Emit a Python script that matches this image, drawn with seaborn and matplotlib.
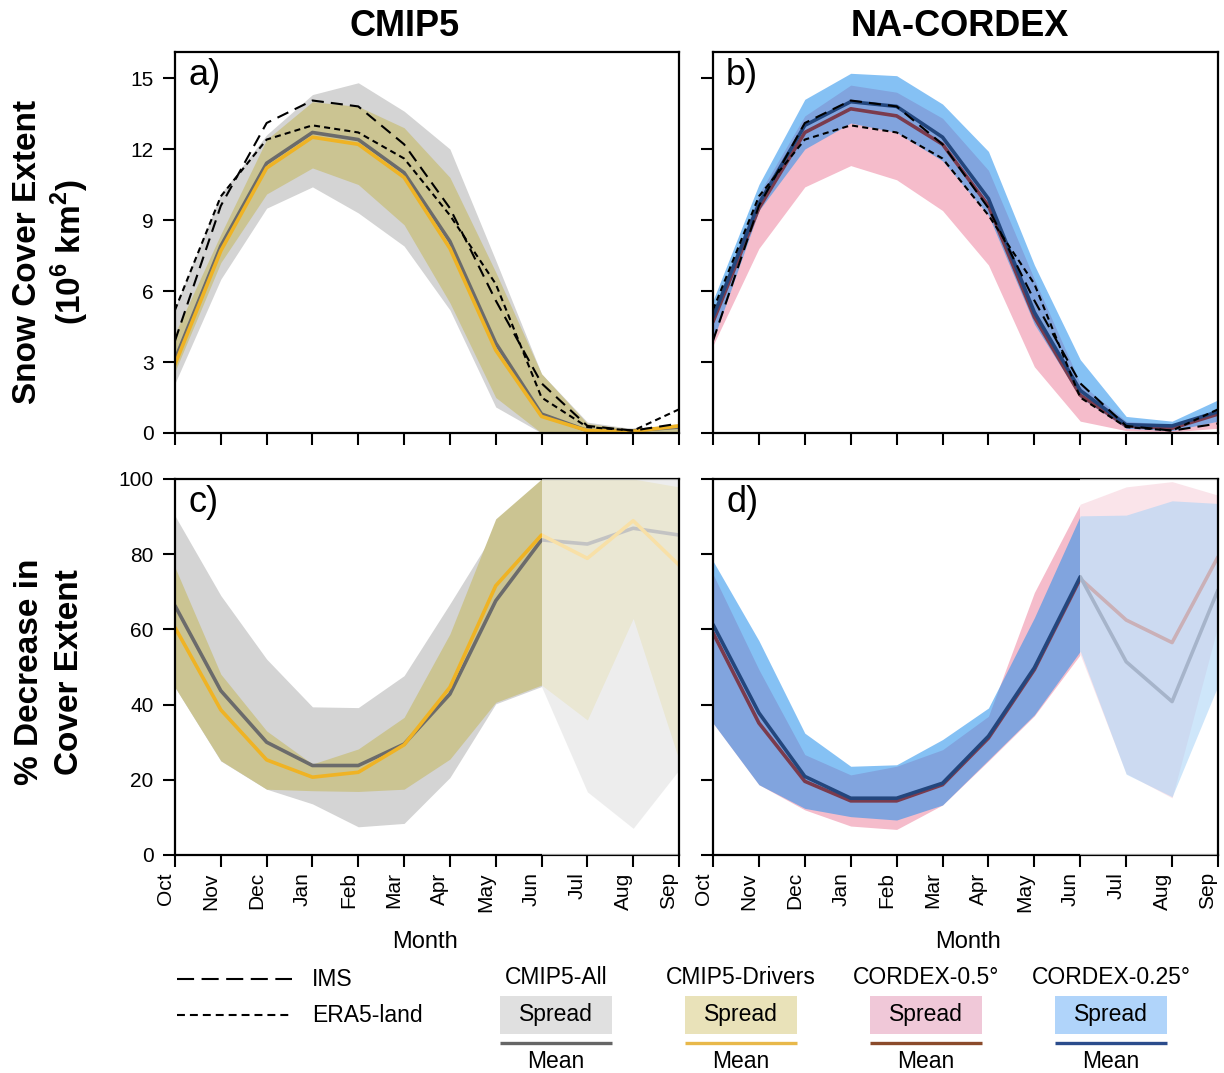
import numpy as np
import pandas as pd
import matplotlib.pyplot as plt
import seaborn as sns
from matplotlib.patches import Rectangle
from matplotlib.transforms import ScaledTranslation

# --- DATA ---
months = ['Oct', 'Nov', 'Dec', 'Jan', 'Feb', 'Mar', 'Apr', 'May', 'Jun', 'Jul', 'Aug', 'Sep']

# panel a: snow cover extent, CMIP5 (10^6 km^2)
a_all_hi = [5.3, 10.1, 12.6, 14.3, 14.8, 13.6, 12.0, 7.3, 2.5, 0.46, 0.18, 0.4]
a_all_lo = [2.1, 6.5, 9.5, 10.4, 9.3, 7.9, 5.2, 1.1, 0.0, 0.0, 0.0, 0.0]
a_drv_hi = [4.2, 8.4, 12.4, 14.0, 13.8, 12.9, 10.8, 6.8, 2.5, 0.4, 0.15, 0.35]
a_drv_lo = [2.6, 7.2, 10.1, 11.2, 10.5, 8.8, 5.5, 1.5, 0.0, 0.0, 0.0, 0.0]
a_all_mean = [3.1, 7.9, 11.4, 12.7, 12.4, 11.0, 8.1, 3.8, 0.8, 0.1, 0.1, 0.25]
a_drv_mean = [2.9, 7.7, 11.2, 12.5, 12.2, 10.8, 7.8, 3.5, 0.7, 0.1, 0.07, 0.3]

# observations (same in panels a and b)
ims = [3.9, 9.6, 13.1, 14.05, 13.8, 12.2, 9.5, 5.6, 2.1, 0.3, 0.1, 0.4]
era5 = [5.2, 10.0, 12.4, 13.0, 12.7, 11.6, 9.2, 6.3, 1.5, 0.25, 0.1, 1.0]

# panel b: snow cover extent, NA-CORDEX
b_c50_hi = [5.1, 10.1, 13.4, 14.7, 14.4, 13.3, 11.1, 6.5, 2.1, 0.5, 0.35, 1.0]
b_c50_lo = [3.7, 7.8, 10.4, 11.3, 10.7, 9.4, 7.1, 2.8, 0.5, 0.1, 0.05, 0.2]
b_c25_hi = [5.6, 10.5, 14.1, 15.2, 15.1, 13.9, 11.9, 7.1, 3.1, 0.7, 0.5, 1.4]
b_c25_lo = [3.9, 9.4, 12.0, 13.1, 12.7, 11.5, 9.2, 4.6, 1.5, 0.2, 0.1, 0.5]
b_c50_mean = [4.7, 9.5, 12.7, 13.7, 13.4, 12.2, 9.6, 4.9, 1.6, 0.3, 0.2, 0.8]
b_c25_mean = [4.9, 9.7, 13.0, 14.0, 13.8, 12.5, 9.9, 5.1, 1.8, 0.35, 0.3, 0.9]

# panel c: % decrease in cover extent, CMIP5
c_all_hi = [90.2, 69.0, 52.1, 39.4, 39.2, 47.7, 66.8, 86.5, 100, 100, 100, 100]
c_all_lo = [44.6, 25.0, 17.5, 13.6, 7.5, 8.4, 20.6, 40.2, 44.8, 16.8, 7.1, 22.6]
c_drv_hi = [76.5, 48.1, 33.0, 24.2, 28.2, 36.6, 58.8, 89.4, 100, 100, 100, 97.9]
c_drv_lo = [44.6, 25.1, 17.5, 17.1, 16.9, 17.5, 25.5, 40.6, 45.2, 35.9, 62.9, 25.3]
c_all_mean = [66.3, 43.7, 30.0, 23.8, 23.8, 29.5, 42.8, 67.6, 83.8, 82.7, 86.9, 85.1]
c_drv_mean = [60.5, 38.6, 25.3, 20.7, 22.0, 29.3, 44.6, 71.6, 85.1, 78.9, 88.9, 77.1]

# panel d: % decrease in cover extent, NA-CORDEX
d_c50_hi = [74.7, 49.3, 26.7, 21.3, 23.6, 28.0, 36.9, 69.8, 93.3, 97.9, 99.3, 95.7]
d_c50_lo = [35.1, 18.7, 12.0, 7.7, 6.8, 13.3, 25.0, 37.0, 53.3, 21.7, 15.2, 61.0]
d_c25_hi = [78.2, 57.0, 32.4, 23.6, 24.0, 30.7, 39.1, 63.1, 90.2, 90.4, 94.2, 93.5]
d_c25_lo = [35.1, 18.7, 12.4, 10.2, 9.3, 13.3, 25.3, 37.3, 54.2, 21.5, 15.5, 45.0]
d_c50_mean = [59.1, 35.1, 19.6, 14.4, 14.4, 18.7, 31.1, 49.3, 73.5, 62.5, 56.5, 79.3]
d_c25_mean = [61.3, 37.8, 20.9, 15.1, 15.1, 19.1, 31.6, 49.8, 74.0, 51.4, 40.8, 70.5]

x = np.arange(len(months))

# --- STYLE ---
GRAY_FILL, OLIVE_FILL = '#d4d4d4', '#cbc492'
PINK_FILL, BLUE_FILL = '#f5bccb', '#2992ed'
GRAY_LINE, ORANGE_LINE = '#6b6b6b', '#efb324'
RED_LINE, NAVY_LINE = '#7b3b4d', '#23467d'

sns.set_theme(style='ticks')
plt.rcParams['font.family'] = ['Liberation Sans', 'DejaVu Sans']
plt.rcParams['mathtext.fontset'] = 'custom'
plt.rcParams['mathtext.rm'] = 'Liberation Sans'
plt.rcParams['mathtext.bf'] = 'Liberation Sans:bold'
for key in ('text.color', 'axes.labelcolor', 'xtick.color', 'ytick.color', 'axes.edgecolor'):
    plt.rcParams[key] = 'black'

W, H = 1224, 1073
fig = plt.figure(figsize=(W / 100, H / 100), dpi=100)


def px_axes(left, top, right, bottom):
    return fig.add_axes([left / W, 1 - bottom / H, (right - left) / W, (bottom - top) / H])


ax_a = px_axes(175, 52, 679, 433)
ax_b = px_axes(713, 52, 1218, 433)
ax_c = px_axes(175, 479, 679, 855)
ax_d = px_axes(713, 479, 1218, 855)


def mean_line(ax, values, color, lw=2.6):
    sns.lineplot(x=x, y=values, color=color, linewidth=lw, ax=ax, zorder=2)


def obs_lines(ax):
    df_obs = pd.DataFrame({
        'month': np.concatenate([x, x]),
        'value': ims + era5,
        'source': ['IMS'] * len(x) + ['ERA5-land'] * len(x),
    })
    sns.lineplot(data=df_obs, x='month', y='value', style='source',
                 dashes={'IMS': (5.8, 3.4), 'ERA5-land': (2.9, 2.0)},
                 color='black', linewidth=1.5, legend=False, ax=ax, zorder=2.1)


# a) CMIP5 extent
ax_a.fill_between(x, a_all_lo, a_all_hi, color=GRAY_FILL, lw=0)
ax_a.fill_between(x, a_drv_lo, a_drv_hi, color=OLIVE_FILL, lw=0)
mean_line(ax_a, a_all_mean, GRAY_LINE)
mean_line(ax_a, a_drv_mean, ORANGE_LINE)
obs_lines(ax_a)

# b) NA-CORDEX extent
ax_b.fill_between(x, b_c50_lo, b_c50_hi, color=PINK_FILL, lw=0)
ax_b.fill_between(x, b_c25_lo, b_c25_hi, color=BLUE_FILL, alpha=0.57, lw=0)
mean_line(ax_b, b_c50_mean, RED_LINE)
mean_line(ax_b, b_c25_mean, NAVY_LINE)
obs_lines(ax_b)

# c) CMIP5 % decrease
ax_c.fill_between(x, c_all_lo, c_all_hi, color=GRAY_FILL, lw=0)
ax_c.fill_between(x, c_drv_lo, c_drv_hi, color=OLIVE_FILL, lw=0)
mean_line(ax_c, c_all_mean, GRAY_LINE)
mean_line(ax_c, c_drv_mean, ORANGE_LINE)

# d) NA-CORDEX % decrease
ax_d.fill_between(x, d_c50_lo, d_c50_hi, color=PINK_FILL, lw=0)
ax_d.fill_between(x, d_c25_lo, d_c25_hi, color=BLUE_FILL, alpha=0.57, lw=0)
mean_line(ax_d, d_c50_mean, RED_LINE)
mean_line(ax_d, d_c25_mean, NAVY_LINE)

# summer months washed out in the % panels
for ax in (ax_c, ax_d):
    ax.axvspan(8, 11, color='white', alpha=0.6, lw=0, zorder=2.6)
    ax.spines['right'].set_zorder(3)

for ax, lab in zip((ax_a, ax_b, ax_c, ax_d), ('a)', 'b)', 'c)', 'd)')):
    ax.set_xlim(0, 11)
    ax.set_xticks(x)
    ax.set_xlabel('')
    ax.set_ylabel('')
    for sp in ax.spines.values():
        sp.set_visible(True)
        sp.set_linewidth(1.6)
        sp.set_color('black')
    ax.tick_params(direction='out', length=8.5, width=1.5, color='black', labelsize=15)
    ax.tick_params(axis='y', pad=7)
    ax.tick_params(axis='x', pad=4)
    ax.text(0.026, 0.985, lab, transform=ax.transAxes, fontsize=26,
            ha='left', va='top')

for ax in (ax_a, ax_b):
    ax.set_ylim(0, 16.1)
    ax.set_yticks([0, 3, 6, 9, 12, 15])
    ax.set_xticklabels([])
shift_left = ScaledTranslation(-0.1, 0, fig.dpi_scale_trans)
for ax in (ax_c, ax_d):
    ax.set_ylim(0, 100)
    ax.set_yticks([0, 20, 40, 60, 80, 100])
    ax.set_xticklabels(months, rotation=90)
    for lbl in ax.get_xticklabels():
        lbl.set_transform(lbl.get_transform() + shift_left)
for ax in (ax_b, ax_d):
    ax.set_yticklabels([])

# titles and axis labels
fig.text(405 / W, 1 - 27 / H, 'CMIP5', fontsize=26, fontweight='bold', ha='center', va='center')
fig.text(960 / W, 1 - 27 / H, 'NA-CORDEX', fontsize=26, fontweight='bold', ha='center', va='center')
fig.text(28 / W, 1 - 252 / H, 'Snow Cover Extent', fontsize=24, fontweight='bold',
         rotation=90, ha='center', va='center')
fig.text(70 / W, 1 - 252 / H, r'(10$^{\mathbf{6}}$ km$^{\mathbf{2}}$)', fontsize=24, fontweight='bold',
         rotation=90, ha='center', va='center')
fig.text(30 / W, 1 - 672 / H, '% Decrease in', fontsize=24, fontweight='bold',
         rotation=90, ha='center', va='center')
fig.text(70 / W, 1 - 672 / H, 'Cover Extent', fontsize=24, fontweight='bold',
         rotation=90, ha='center', va='center')
fig.text(425 / W, 1 - 942 / H, 'Month', fontsize=17, ha='center', va='center')
fig.text(968 / W, 1 - 942 / H, 'Month', fontsize=17, ha='center', va='center')

# --- custom legend strip (pixel coordinates) ---
leg = fig.add_axes([0, 0, 1, 1], zorder=-1)
leg.set_xlim(0, W)
leg.set_ylim(H, 0)
leg.axis('off')

leg.plot([177, 292], [979, 979], color='black', lw=1.5, dashes=(8.2, 3.6))
leg.plot([177, 292], [1015, 1015], color='black', lw=1.5, dashes=(3.8, 2.4))
leg.text(312, 979, 'IMS', fontsize=16.5, va='center', ha='left')
leg.text(312, 1015, 'ERA5-land', fontsize=16.5, va='center', ha='left')

groups = ['CMIP5-All', 'CMIP5-Drivers', 'CORDEX-0.5°', 'CORDEX-0.25°']
box_colors = ['#e0e0e0', '#e9e2b9', '#f0c8d8', '#b0d4fa']
line_colors = ['#666666', '#e8b84a', '#8b4b2b', '#2b4c8c']
centers = [556, 741, 926, 1111]
for name, bc, lc, cx in zip(groups, box_colors, line_colors, centers):
    leg.text(cx, 978, name, fontsize=16.5, ha='center', va='center')
    leg.add_patch(Rectangle((cx - 56, 996), 112, 38, color=bc, lw=0))
    leg.text(cx, 1015, 'Spread', fontsize=16.5, ha='center', va='center')
    leg.plot([cx - 56, cx + 56], [1043, 1043], color=lc, lw=2.4, solid_capstyle='butt')
    leg.text(cx, 1062, 'Mean', fontsize=16.5, ha='center', va='center')

fig.savefig('out.png', dpi=100)
